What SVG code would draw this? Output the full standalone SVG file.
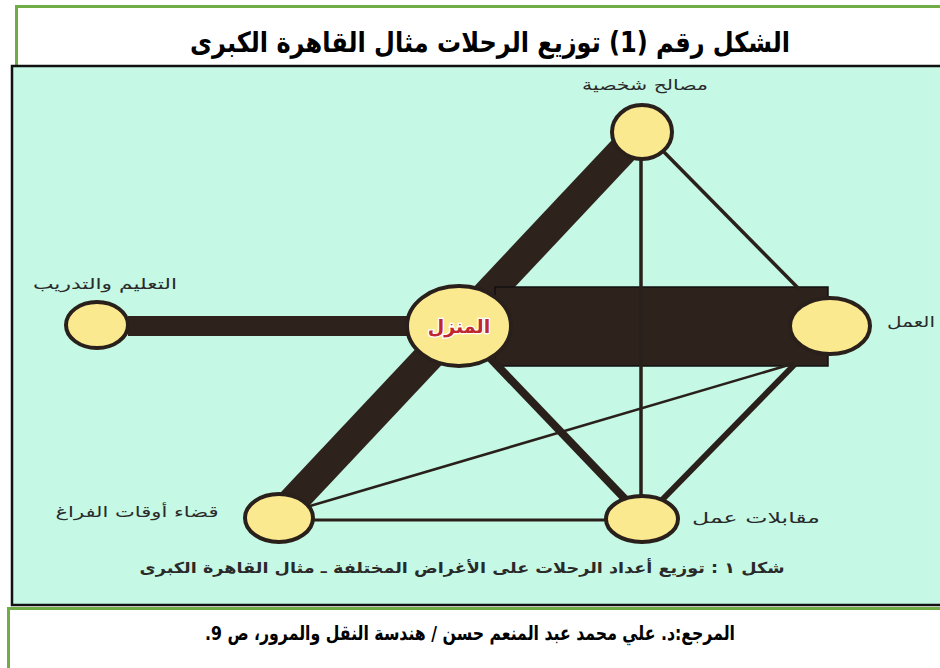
<svg xmlns="http://www.w3.org/2000/svg" width="940" height="668" viewBox="0 0 940 668">
<style>
.ar{font-family:"DejaVu Sans","Noto Sans",sans-serif;direction:rtl;text-anchor:middle}
.title{font-weight:bold;font-size:28px;fill:#000}
.ref{font-weight:bold;font-size:20px;fill:#000}
.lbl{font-size:15px;fill:#2a2a2a}
.cap{font-weight:bold;font-size:15px;fill:#2a2a2a}
.node{fill:#fbe98f;stroke:#2a201b;stroke-width:4}
.thick{stroke:#2e221c;fill:none}
.thin{stroke:#2a201b;fill:none}
</style>
<rect x="0" y="0" width="940" height="668" fill="#fff"/>
<rect x="16.5" y="6.5" width="940" height="70" fill="#fff" stroke="#70ad47" stroke-width="3"/>
<rect x="12" y="66" width="940" height="539" fill="#c5f9e5" stroke="#111" stroke-width="2.5"/>
<rect x="8.5" y="608.5" width="940" height="70" fill="#fff" stroke="#70ad47" stroke-width="3"/>
<text class="ar title" x="490" y="52" textLength="600" lengthAdjust="spacingAndGlyphs">الشكل رقم (1) توزيع الرحلات مثال القاهرة الكبرى</text>
<text class="ar ref" x="470" y="640" textLength="530" lengthAdjust="spacingAndGlyphs">المرجع:د. علي محمد عبد المنعم حسن / هندسة النقل والمرور، ص 9.</text>
<g id="connectors">
<line class="thick" x1="128" y1="326" x2="420" y2="326" stroke-width="20"/>
<line class="thick" x1="280" y1="515" x2="641" y2="131" stroke-width="30"/>
<rect x="495" y="287" width="333" height="79" fill="#2e221c" stroke="#111" stroke-width="1.5"/>
<line class="thin" x1="490" y1="358" x2="626" y2="500" stroke-width="8"/>
<line class="thin" x1="795" y1="364" x2="662" y2="500" stroke-width="6"/>
<line class="thin" x1="662" y1="150" x2="800" y2="290" stroke-width="3.5"/>
<line class="thin" x1="641" y1="158" x2="641" y2="498" stroke-width="3.5"/>
<line class="thin" x1="310" y1="520" x2="608" y2="520" stroke-width="3"/>
<line class="thin" x1="310" y1="506" x2="792" y2="364" stroke-width="2.5"/>
</g>
<g id="node-home">
<ellipse class="node" cx="459" cy="326" rx="52" ry="40"/>
<text class="ar" x="459" y="333" font-size="19" font-weight="bold" fill="#c0282d" stroke="#fff" stroke-width="2.5" paint-order="stroke">المنزل</text>
</g>
<g id="node-personal">
<ellipse class="node" cx="642" cy="132" rx="30" ry="27"/>
<text class="ar lbl" x="645" y="90" textLength="126" lengthAdjust="spacingAndGlyphs">مصالح شخصية</text>
</g>
<g id="node-education">
<ellipse class="node" cx="97" cy="325" rx="31" ry="23"/>
<text class="ar lbl" x="105" y="289" textLength="144" lengthAdjust="spacingAndGlyphs">التعليم والتدريب</text>
</g>
<g id="node-work">
<ellipse class="node" cx="830" cy="326" rx="40" ry="28"/>
<text class="ar lbl" x="911" y="327" textLength="48" lengthAdjust="spacingAndGlyphs">العمل</text>
</g>
<g id="node-leisure">
<ellipse class="node" cx="279" cy="518" rx="34" ry="24"/>
<text class="ar lbl" x="137" y="517" textLength="163" lengthAdjust="spacingAndGlyphs">قضاء أوقات الفراغ</text>
</g>
<g id="node-interviews">
<ellipse class="node" cx="642" cy="519" rx="36" ry="23"/>
<text class="ar lbl" x="756" y="523" textLength="128" lengthAdjust="spacingAndGlyphs">مقابلات عمل</text>
</g>
<text class="ar cap" x="462" y="573" textLength="645" lengthAdjust="spacingAndGlyphs">شكل ١ : توزيع أعداد الرحلات على الأغراض المختلفة ـ مثال القاهرة الكبرى</text>
</svg>
